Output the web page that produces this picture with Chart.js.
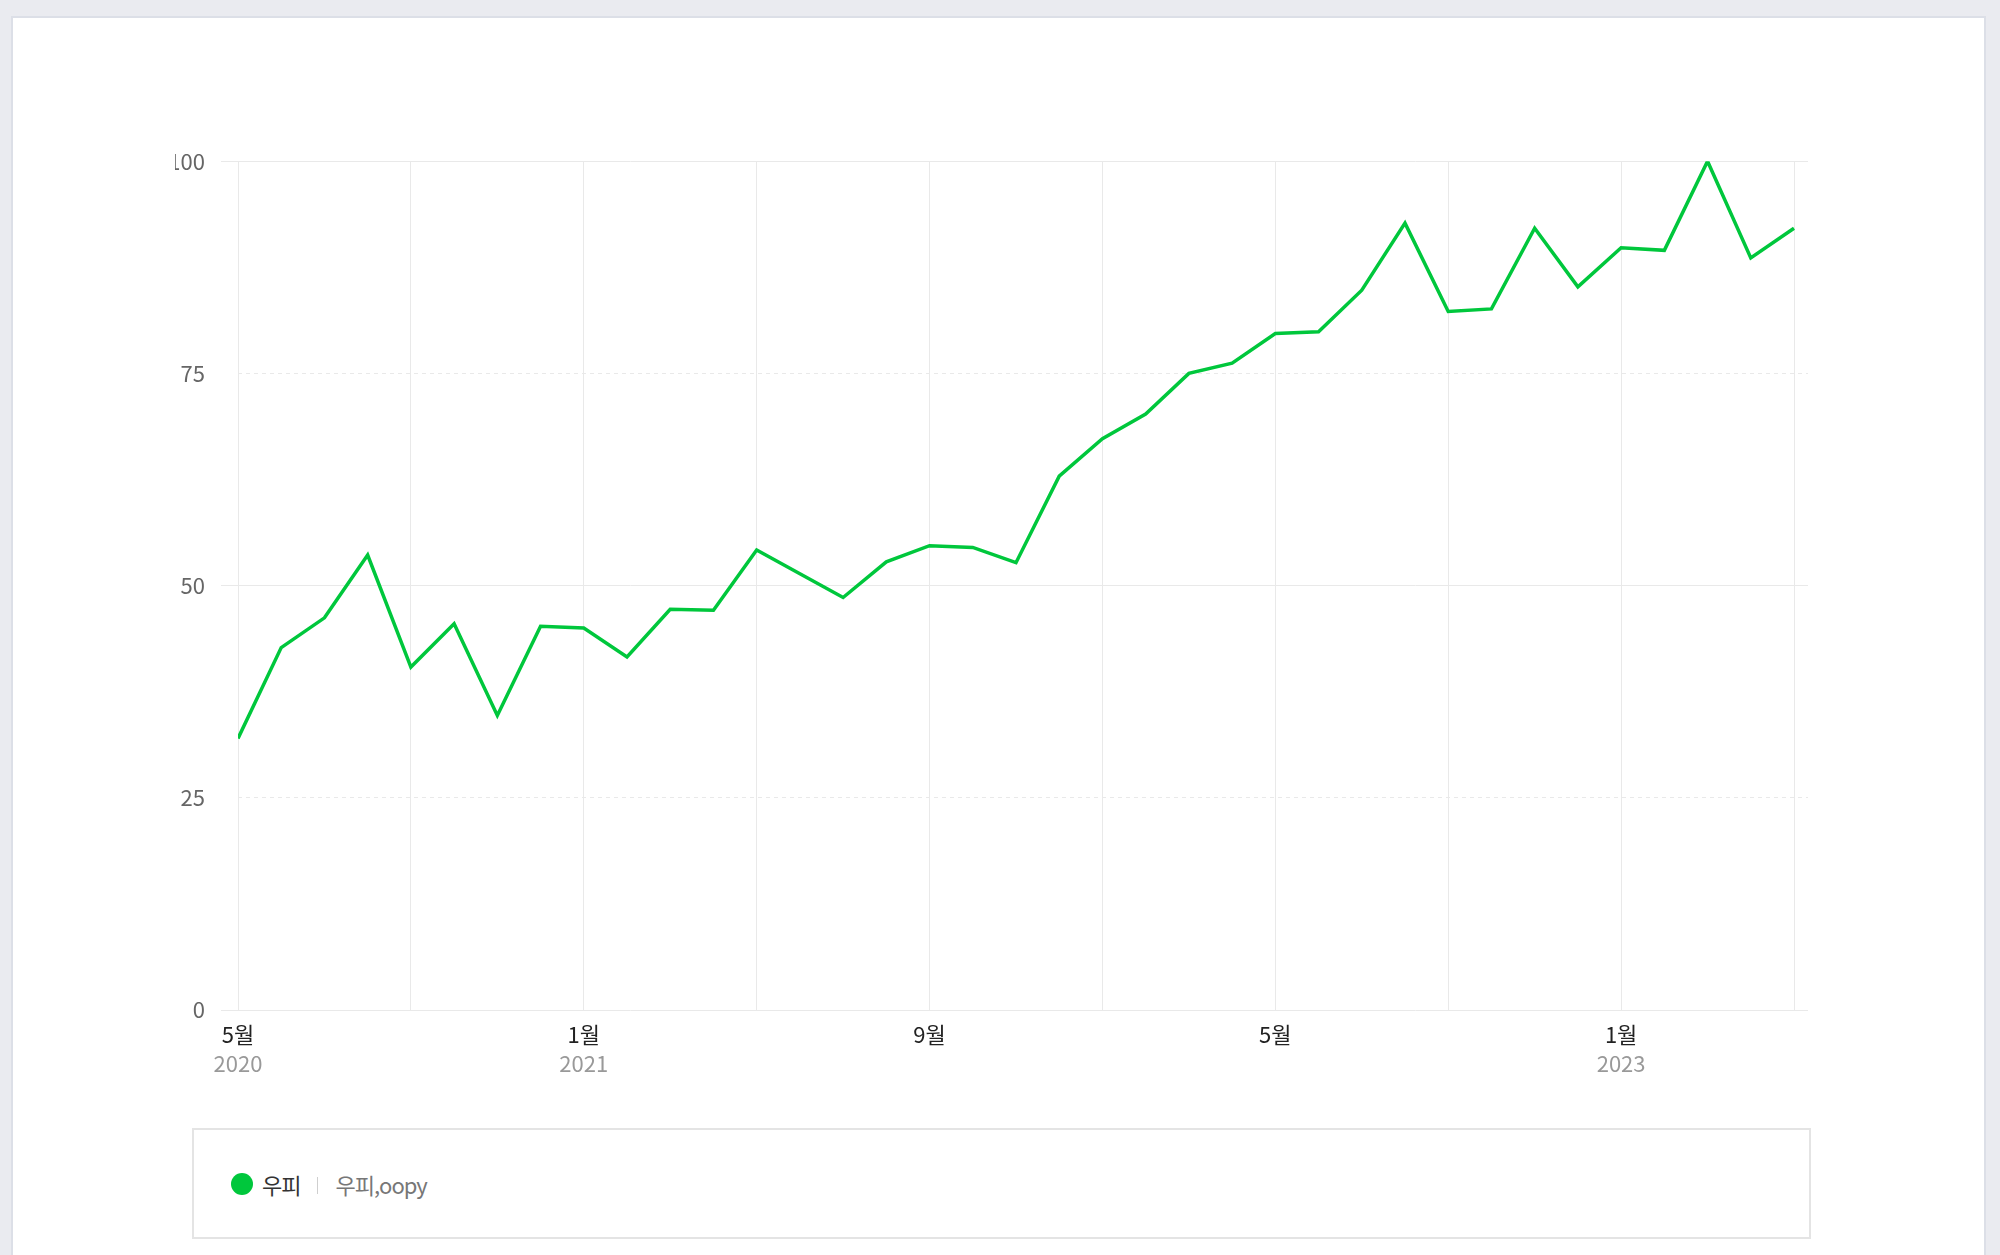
<!DOCTYPE html>
<html lang="ko">
<head>
<meta charset="utf-8">
<title>우피 검색 추이</title>
<script src="https://cdn.jsdelivr.net/npm/chart.js@4.4.1/dist/chart.umd.min.js"></script>
<style>
    html, body { margin: 0; padding: 0; }
    body {
        width: 2000px;
        height: 1255px;
        background: #eaebf0;
        font-family: "Noto Sans CJK KR", "Noto Sans", sans-serif;
        overflow: hidden;
        position: relative;
    }
    .card {
        position: absolute;
        left: 11px;
        top: 16px;
        width: 1975px;
        height: 1300px;
        background: #fff;
        border: 2px solid #dcdfe7;
        box-sizing: border-box;
    }
    .chart-wrap {
        position: absolute;
        left: 175px;
        top: 132px;
        width: 1633px;
        height: 956px;
    }
    .legend-box {
        position: absolute;
        left: 192px;
        top: 1128px;
        width: 1619px;
        height: 111px;
        border: 2px solid #e4e4e4;
        box-sizing: border-box;
        background: #fff;
    }
    .legend-item {
        position: absolute;
        left: 37px;
        top: 0;
        height: 107px;
        display: flex;
        align-items: center;
        font-size: 22px;
        letter-spacing: -1px;
    }
    .legend-dot {
        width: 22px;
        height: 22px;
        border-radius: 50%;
        margin-right: 9px;
    }
    .legend-name { color: #333; }
    .legend-sep {
        width: 1px;
        height: 17px;
        background: #cfcfcf;
        margin: 4px 17px 0 17px;
    }
    .legend-keywords { color: #777; }
</style>
</head>
<body>
<div class="card"></div>
<div class="chart-wrap"><canvas id="trendChart"></canvas></div>
<div class="legend-box">
    <div class="legend-item">
        <span class="legend-dot" id="legendDot"></span>
        <span class="legend-name" id="legendName"></span>
        <span class="legend-sep"></span>
        <span class="legend-keywords" id="legendKeywords"></span>
    </div>
</div>

<script>
// ========== DATA ==========
const categories = [
    '2020-05', '2020-06', '2020-07', '2020-08', '2020-09', '2020-10', '2020-11', '2020-12',
    '2021-01', '2021-02', '2021-03', '2021-04', '2021-05', '2021-06', '2021-07', '2021-08',
    '2021-09', '2021-10', '2021-11', '2021-12', '2022-01', '2022-02', '2022-03', '2022-04',
    '2022-05', '2022-06', '2022-07', '2022-08', '2022-09', '2022-10', '2022-11', '2022-12',
    '2023-01', '2023-02', '2023-03', '2023-04', '2023-05'
];
const seriesName = '우피';
const seriesKeywords = '우피,oopy';
const seriesValues = [
    32.0, 42.7, 46.2, 53.6, 40.4, 45.5, 34.7, 45.2,
    45.0, 41.6, 47.2, 47.1, 54.2, 51.4, 48.6, 52.8,
    54.7, 54.5, 52.7, 62.9, 67.3, 70.2, 75.0, 76.2,
    79.7, 79.9, 84.8, 92.7, 82.3, 82.6, 92.1, 85.2,
    89.8, 89.5, 100, 88.6, 92.1
];
const yTicks = [0, 25, 50, 75, 100];
const yDashedTicks = [25, 75];

const lineColor = '#00c73c';
const gridColor = '#e9e9e9';
const fontFamily = '"Noto Sans CJK KR", "Noto Sans", sans-serif';

// ========== TICK HELPERS ==========
const gridIdx = categories.map((c, i) => i).filter(i => i % 4 === 0);
function monthLabel(i) {
    if (i % 8 !== 0 || i >= categories.length - 1) return '';
    return parseInt(categories[i].slice(5), 10) + '월';
}
function yearLabel(i) {
    const m = parseInt(categories[i].slice(5), 10);
    if (i === 0 || m === 1) return categories[i].slice(0, 4);
    return '';
}
const yearIdx = categories.map((c, i) => i).filter(i => i % 8 === 0 && yearLabel(i) !== '');

// ========== LEGEND ==========
document.getElementById('legendDot').style.background = lineColor;
document.getElementById('legendName').innerText = seriesName;
document.getElementById('legendKeywords').innerText = seriesKeywords;

// ========== CHART ==========
const points = seriesValues.map((v, i) => ({ x: i, y: v }));
const xMax = (categories.length - 1) * 1570 / 1556;

const ctx = document.getElementById('trendChart').getContext('2d');
new Chart(ctx, {
    type: 'line',
    data: {
        datasets: [{
            label: seriesName,
            data: points,
            borderColor: lineColor,
            borderWidth: 3.5,
            pointRadius: 0,
            pointHoverRadius: 0,
            tension: 0,
            fill: false
        }]
    },
    options: {
        responsive: true,
        maintainAspectRatio: false,
        animation: false,
        layout: { padding: { top: 20, left: 0, right: 0, bottom: 0 } },
        plugins: {
            legend: { display: false },
            tooltip: { enabled: false }
        },
        scales: {
            x: {
                type: 'linear',
                position: 'bottom',
                weight: 0,
                min: 0,
                max: xMax,
                afterBuildTicks: (scale) => { scale.ticks = gridIdx.map(v => ({ value: v })); },
                afterFit: (scale) => { scale.height = 38; },
                grid: { color: gridColor, lineWidth: 1, drawTicks: false },
                border: { display: false },
                ticks: {
                    autoSkip: false,
                    maxRotation: 0,
                    padding: 11,
                    color: '#222',
                    font: { family: fontFamily, size: 22 },
                    callback: (v) => monthLabel(v)
                }
            },
            x2: {
                type: 'linear',
                position: 'bottom',
                weight: 1,
                min: 0,
                max: xMax,
                afterBuildTicks: (scale) => { scale.ticks = yearIdx.map(v => ({ value: v })); },
                afterFit: (scale) => { scale.height = 40; },
                grid: { display: false, drawTicks: false },
                border: { display: false },
                ticks: {
                    autoSkip: false,
                    maxRotation: 0,
                    padding: 2,
                    color: '#999',
                    font: { family: fontFamily, size: 22 },
                    callback: (v) => yearLabel(v)
                }
            },
            y: {
                position: 'left',
                min: 0,
                max: 100,
                afterBuildTicks: (scale) => { scale.ticks = yTicks.map(v => ({ value: v })); },
                afterFit: (scale) => { scale.width = 63; },
                grid: {
                    color: (c) => (c.tick && c.tick.value % 50 === 0) ? gridColor : 'rgba(0,0,0,0)',
                    tickColor: (c) => (c.tick && c.tick.value % 50 === 0) ? gridColor : 'rgba(0,0,0,0)',
                    tickLength: 17,
                    lineWidth: 1
                },
                border: { display: false },
                ticks: {
                    padding: 16,
                    color: '#666',
                    font: { family: fontFamily, size: 22 }
                }
            },
            y2: {
                position: 'right',
                min: 0,
                max: 100,
                afterBuildTicks: (scale) => { scale.ticks = yDashedTicks.map(v => ({ value: v })); },
                afterFit: (scale) => { scale.width = 0; },
                grid: { color: gridColor, lineWidth: 1, drawTicks: false },
                border: { display: false, dash: [4, 4] },
                ticks: { display: false }
            }
        }
    }
});
</script>
</body>
</html>
